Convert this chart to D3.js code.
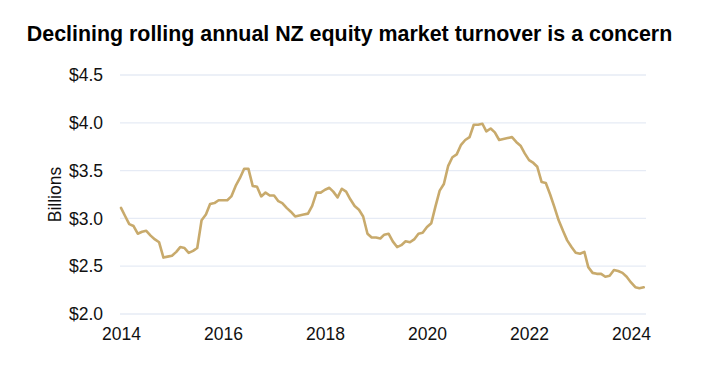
<!DOCTYPE html>
<html>
<head>
<meta charset="utf-8">
<script src="https://cdn.jsdelivr.net/npm/d3@7"></script>
<style>
  html, body { margin: 0; padding: 0; background: #fff; }
  svg { display: block; font-family: "Liberation Sans", Arial, sans-serif; }
</style>
</head>
<body>
<svg id="chart" width="705" height="365"></svg>
<script>
// ---- Data (monthly, Jan 2014 – Apr 2024), NZD billions ----
const title = "Declining rolling annual NZ equity market turnover is a concern";
const yAxisLabel = "Billions";
const startMonth = "2014-01";
const turnover = [
  3.11, 3.02, 2.94, 2.92, 2.84, 2.86, 2.87, 2.82, 2.78, 2.75, 2.59, 2.60,
  2.61, 2.65, 2.70, 2.69, 2.64, 2.66, 2.69, 2.98, 3.04, 3.15, 3.16, 3.19,
  3.19, 3.19, 3.23, 3.34, 3.42, 3.52, 3.52, 3.34, 3.33, 3.23, 3.27, 3.24,
  3.24, 3.18, 3.16, 3.11, 3.07, 3.02, 3.03, 3.04, 3.05, 3.13, 3.27, 3.27,
  3.30, 3.32, 3.28, 3.22, 3.31, 3.28, 3.20, 3.13, 3.09, 3.02, 2.84, 2.80,
  2.80, 2.79, 2.83, 2.84, 2.76, 2.70, 2.72, 2.76, 2.75, 2.78, 2.84, 2.85,
  2.91, 2.95, 3.12, 3.29, 3.36, 3.55, 3.64, 3.67, 3.77, 3.82, 3.85, 3.98,
  3.98, 3.99, 3.91, 3.94, 3.90, 3.82, 3.83, 3.84, 3.85, 3.80, 3.76, 3.68,
  3.61, 3.58, 3.54, 3.38, 3.37, 3.25, 3.12, 2.98, 2.87, 2.77, 2.70, 2.64,
  2.63, 2.65, 2.49, 2.43, 2.42, 2.42, 2.39, 2.40, 2.46, 2.45, 2.43, 2.39,
  2.33, 2.28, 2.27, 2.28
];
const yTicks = [2.0, 2.5, 3.0, 3.5, 4.0, 4.5];
const xTickYears = [2014, 2016, 2018, 2020, 2022, 2024];

// ---- Layout ----
const plot = { left: 120, right: 646, top: 75, bottom: 314 };
const parseMonth = d3.timeParse("%Y-%m");
const t0 = parseMonth(startMonth);
const dates = turnover.map((_, i) => d3.timeMonth.offset(t0, i));
const data = dates.map((d, i) => ({ date: d, value: turnover[i] }));

const svg = d3.select("#chart");

const x = d3.scaleTime()
  .domain([new Date(2014, 0, 1), new Date(2024, 0, 1)])
  .range([121, 631]);
const y = d3.scaleLinear().domain([2.0, 4.5]).range([plot.bottom, plot.top]);

// Title
svg.append("text")
  .attr("x", 349.5).attr("y", 40.8)
  .attr("text-anchor", "middle")
  .attr("font-size", 21.4).attr("font-weight", "bold")
  .attr("fill", "#000")
  .text(title);

// Gridlines
svg.append("g")
  .selectAll("line")
  .data(yTicks)
  .join("line")
  .attr("x1", plot.left).attr("x2", plot.right)
  .attr("y1", d => y(d)).attr("y2", d => y(d))
  .attr("stroke", "#e6ebf5").attr("stroke-width", 1.3);

// Y axis
const yAxis = d3.axisLeft(y)
  .tickValues(yTicks)
  .tickSize(0)
  .tickPadding(0)
  .tickFormat(d => "$" + d3.format(".1f")(d));
const gy = svg.append("g").attr("transform", `translate(103,0)`).call(yAxis);
gy.select(".domain").remove();
gy.selectAll("text").attr("font-size", 17.5).attr("fill", "#111")
  .attr("font-family", "Liberation Sans, Arial, sans-serif");

// X axis
const xAxis = d3.axisBottom(x)
  .tickValues(xTickYears.map(yr => new Date(yr, 0, 1)))
  .tickSize(0)
  .tickPadding(0)
  .tickFormat(d3.timeFormat("%Y"));
const gx = svg.append("g").attr("transform", `translate(0,${plot.bottom + 14})`).call(xAxis);
gx.select(".domain").remove();
gx.selectAll("text").attr("font-size", 17.5).attr("fill", "#111")
  .attr("font-family", "Liberation Sans, Arial, sans-serif");

// Y axis title
svg.append("text")
  .attr("transform", `translate(55,${(plot.top + plot.bottom) / 2}) rotate(-90)`)
  .attr("text-anchor", "middle")
  .attr("dominant-baseline", "central")
  .attr("font-size", 17.5).attr("fill", "#111")
  .text(yAxisLabel);

// Line
const line = d3.line()
  .x(d => x(d.date))
  .y(d => y(d.value));
svg.append("path")
  .datum(data)
  .attr("d", line)
  .attr("fill", "none")
  .attr("stroke", "#c8aa6c")
  .attr("stroke-width", 2.6)
  .attr("stroke-linejoin", "round")
  .attr("stroke-linecap", "round");
</script>
</body>
</html>
